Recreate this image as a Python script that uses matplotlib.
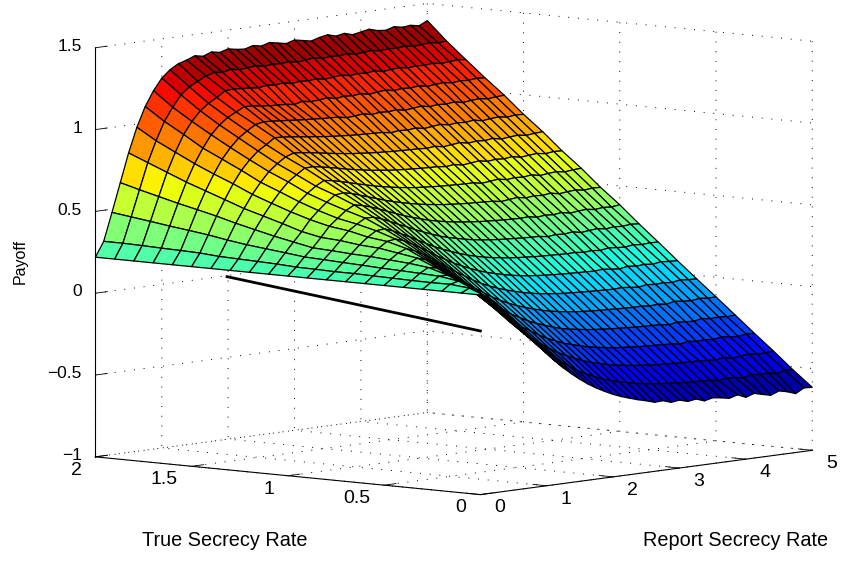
import numpy as np
import matplotlib
matplotlib.use("Agg")
import matplotlib.pyplot as plt
from mpl_toolkits.mplot3d import proj3d

plt.rcParams['font.family'] = ['Liberation Sans', 'DejaVu Sans']

report_rate = np.linspace(0, 5, 41)
true_rate = np.linspace(0, 2, 21)

z_t00 = [.22,.196,.152,.10,.042,-.018,-.078,-.136,-.192,-.245, -.293,-.337,-.377,-.413,-.444,-.471,-.496,-.516,-.533,-.549, -.562,-.578,-.575,-.592,-.585,-.60,-.592,-.61,-.598,-.605, -.615,-.60,-.622,-.605,-.618,-.63,-.61,-.622,-.64,-.612,-.615]
z_t01 = [.22,.243,.214,.172,.123,.069,.012,-.046,-.099,-.149, -.199,-.237,-.279,-.313,-.348,-.375,-.398,-.421,-.436,-.451, -.463,-.474,-.483,-.49,-.496,-.501,-.505,-.509,-.512,-.514, -.516,-.525,-.516,-.52,-.528,-.515,-.522,-.518,-.53,-.516,-.52]
z_t02 = [.22,.255,.268,.236,.191,.146,.094,.042,-.013,-.061, -.106,-.147,-.185,-.22,-.251,-.275,-.299,-.32,-.337,-.351, -.365,-.375,-.382,-.39,-.396,-.401,-.405,-.408,-.411,-.414, -.416,-.415,-.42,-.424,-.416,-.428,-.42,-.415,-.424,-.42,-.418]
z_t03 = [.22,.254,.286,.286,.255,.215,.172,.123,.077,.03, -.013,-.056,-.092,-.123,-.154,-.182,-.203,-.225,-.24,-.255, -.268,-.277,-.286,-.293,-.298,-.303,-.307,-.31,-.312,-.315, -.317,-.326,-.315,-.322,-.318,-.324,-.316,-.32,-.326,-.318,-.32]
z_t04 = [.22,.255,.292,.321,.311,.281,.243,.202,.159,.118, .077,.036,.003,-.032,-.059,-.086,-.108,-.127,-.144,-.16, -.171,-.179,-.187,-.193,-.198,-.202,-.206,-.209,-.212,-.214, -.216,-.218,-.225,-.216,-.22,-.224,-.214,-.222,-.218,-.224,-.22]
z_t05 = [.22,.258,.297,.335,.36,.343,.314,.278,.24,.202, .163,.127,.094,.062,.034,.01,-.012,-.029,-.046,-.06, -.072,-.082,-.089,-.096,-.101,-.105,-.108,-.11,-.113,-.115, -.117,-.116,-.122,-.118,-.125,-.114,-.12,-.124,-.116,-.122,-.12]
z_t06 = [.22,.26,.301,.344,.379,.40,.379,.352,.32,.285, .251,.217,.186,.154,.127,.104,.083,.066,.051,.037, .026,.016,.009,.003,-.002,-.005,-.008,-.011,-.013,-.015, -.017,-.014,-.02,-.025,-.016,-.022,-.018,-.024,-.015,-.02,-.022]
z_t07 = [.22,.263,.307,.353,.398,.432,.44,.423,.396,.367, .336,.303,.275,.246,.222,.199,.179,.162,.148,.135, .124,.115,.107,.102,.097,.094,.09,.088,.086,.084, .082,.086,.08,.075,.084,.078,.082,.076,.085,.08,.078]
z_t08 = [.22,.263,.312,.358,.406,.447,.479,.484,.465,.44, .416,.388,.361,.335,.312,.292,.273,.256,.242,.23, .22,.213,.205,.2,.196,.192,.189,.187,.185,.183, .184,.178,.182,.176,.185,.18,.176,.184,.178,.182,.18]
z_t09 = [.22,.266,.318,.366,.421,.474,.508,.538,.537,.519, .497,.473,.451,.427,.406,.386,.367,.352,.34,.328, .318,.31,.304,.299,.295,.292,.288,.286,.284,.276, .282,.278,.285,.274,.28,.284,.276,.282,.278,.284,.28]
z_t10 = [.22,.268,.323,.372,.429,.49,.532,.573,.60,.59, .574,.555,.534,.514,.494,.477,.461,.446,.434,.424, .415,.408,.402,.397,.393,.39,.387,.385,.383,.386, .376,.382,.378,.385,.374,.38,.384,.376,.382,.378,.385]
z_t11 = [.22,.275,.337,.396,.453,.519,.568,.612,.649,.656, .645,.628,.611,.594,.577,.562,.549,.537,.526,.517, .51,.503,.498,.494,.49,.488,.485,.483,.474,.48, .486,.476,.482,.478,.485,.474,.48,.484,.476,.482,.48]
z_t12 = [.22,.279,.35,.42,.49,.555,.61,.655,.692,.72, .712,.70,.686,.672,.659,.646,.635,.625,.616,.609, .602,.598,.594,.59,.588,.586,.584,.584,.574,.58, .586,.576,.582,.578,.585,.574,.58,.584,.576,.582,.585]
z_t13 = [.22,.283,.363,.448,.525,.596,.659,.713,.75,.784, .786,.777,.767,.756,.744,.734,.725,.716,.71,.703, .698,.694,.691,.688,.686,.684,.678,.684,.674,.68, .686,.676,.682,.678,.685,.674,.68,.684,.676,.682,.68]
z_t14 = [.22,.287,.38,.476,.559,.639,.706,.764,.806,.841, .858,.853,.846,.838,.829,.821,.814,.807,.802,.797, .793,.79,.787,.785,.783,.782,.778,.784,.774,.78, .786,.776,.782,.778,.785,.774,.78,.784,.776,.782,.785]
z_t15 = [.22,.296,.40,.508,.602,.692,.767,.825,.872,.904, .94,.937,.931,.925,.918,.912,.906,.901,.897,.893, .89,.888,.886,.884,.875,.882,.878,.884,.874,.88, .886,.876,.882,.878,.885,.874,.88,.884,.876,.882,.88]
z_t16 = [.22,.30,.416,.536,.644,.74,.824,.888,.94,.976, 1.008,1.019,1.016,1.011,1.007,1.002,.998,.995,.991,.989, .986,.976,.98,.986,.975,.982,.978,.984,.974,.98, .986,.976,.982,.978,.985,.974,.98,.984,.976,.982,.985]
z_t17 = [.22,.303,.431,.563,.686,.792,.88,.955,1.008,1.047, 1.074,1.10,1.097,1.09,1.085,1.082,1.08,1.072,1.085,1.076, 1.08,1.086,1.075,1.082,1.078,1.084,1.074,1.08,1.086,1.076, 1.082,1.078,1.085,1.074,1.08,1.084,1.076,1.082,1.078,1.084,1.08]
z_t18 = [.22,.307,.448,.593,.734,.85,.952,1.025,1.083,1.122, 1.151,1.185,1.19,1.185,1.182,1.176,1.185,1.18,1.186,1.175, 1.182,1.178,1.184,1.174,1.18,1.186,1.176,1.182,1.178,1.185, 1.174,1.18,1.184,1.176,1.182,1.178,1.184,1.176,1.18,1.185,1.18]
z_t19 = [.22,.31,.464,.623,.782,.909,1.02,1.10,1.169,1.211, 1.238,1.264,1.28,1.272,1.285,1.276,1.28,1.286,1.275,1.282, 1.278,1.284,1.274,1.28,1.286,1.276,1.282,1.278,1.285,1.274, 1.28,1.284,1.276,1.282,1.278,1.284,1.276,1.28,1.285,1.277,1.282]
z_t20 = [.22,.31,.48,.655,.83,.98,1.10,1.19,1.26,1.305, 1.335,1.35,1.37,1.36,1.38,1.37,1.385,1.375,1.37,1.385, 1.375,1.39,1.38,1.37,1.385,1.375,1.365,1.38,1.39,1.375, 1.385,1.37,1.38,1.39,1.375,1.37,1.385,1.375,1.38,1.37,1.395]

payoff = np.array([z_t00, z_t01, z_t02, z_t03, z_t04, z_t05, z_t06, z_t07, z_t08, z_t09, z_t10,
                   z_t11, z_t12, z_t13, z_t14, z_t15, z_t16, z_t17, z_t18, z_t19, z_t20])

# black reference line
line_true = [1.316, 0]
line_report = [0, 0]
line_payoff = [.18, 0]

x_ticks = [0, 1, 2, 3, 4, 5]
y_ticks = [0, .5, 1, 1.5, 2]
y_labels = ['0', '0.5', '1', '1.5', '2']
z_ticks = [-1, -.5, 0, .5, 1, 1.5]
z_labels = ['\u22121', '\u22120.5', '0', '0.5', '1', '1.5']

fig = plt.figure(figsize=(8.41, 5.61), dpi=100)
ax = fig.add_axes([.0306, .0426, 1, 1], projection='3d', proj_type='ortho', computed_zorder=False)
ax.patch.set_alpha(0)
ax.view_init(elev=6.57, azim=-139.4)
ax.set_box_aspect((509, 506, 411), zoom=1.434)

X, Y = np.meshgrid(report_rate, true_rate)
surf = ax.plot_surface(X, Y, payoff, rstride=1, cstride=1, cmap='jet', vmin=-.65, vmax=1.39,
                       edgecolor='k', linewidth=.9, shade=False, antialiased=True, zorder=2)
surf.set_clip_on(False)
ax.plot(line_report, line_true, line_payoff, color='k', linewidth=2, zorder=3, clip_on=False)

ax.set_xlim(0, 5, view_margin=0)
ax.set_ylim(0, 2, view_margin=0)
ax.set_zlim(-1, 1.5, view_margin=0)
ax.set_xticks(x_ticks)
ax.set_yticks(y_ticks)
ax.set_zticks(z_ticks)
ax.set_xticklabels([])
ax.set_yticklabels([])
ax.set_zticklabels([])

for axis in (ax.xaxis, ax.yaxis, ax.zaxis):
    axis.set_pane_color((1, 1, 1, 0))
    axis.pane.set_edgecolor((1, 1, 1, 0))
    axis.line.set_linewidth(.8)
    axis.line.set_color('k')
    axis.line.set_clip_on(False)
    axis._axinfo['grid'].update(color='k', linestyle=(0, (1, 9)), linewidth=.7)
    axis._axinfo['tick'].update(inward_factor=0, outward_factor=.45, linewidth={True: .6, False: .4})


def label_at(x, y, z, s, size, ha):
    # the automatic 3d padding can't reach these spots, so project by hand
    px, py, _ = proj3d.proj_transform(x, y, z, ax.get_proj())
    ax.text2D(px, py, s, transform=ax.transData, fontsize=size, ha=ha, va='center')


for r in x_ticks:
    label_at(r, -.1, -1.07, str(r), 14, 'center')
for t, s in zip(y_ticks, y_labels):
    label_at(-.21, t, -1.07, s, 14, 'right')
for z, s in zip(z_ticks, z_labels):
    label_at(0, 2.07, z, s, 12.5, 'right')

fig.text(225 / 841, 1 - 541 / 561, 'True Secrecy Rate', fontsize=14.3, ha='center', va='center')
fig.text(736 / 841, 1 - 540 / 561, 'Report Secrecy Rate', fontsize=14.3, ha='center', va='center')
fig.text(20 / 841, 1 - 261 / 561, 'Payoff', fontsize=11.5, rotation=90, ha='center', va='center')

fig.savefig('out.png', dpi=100)
